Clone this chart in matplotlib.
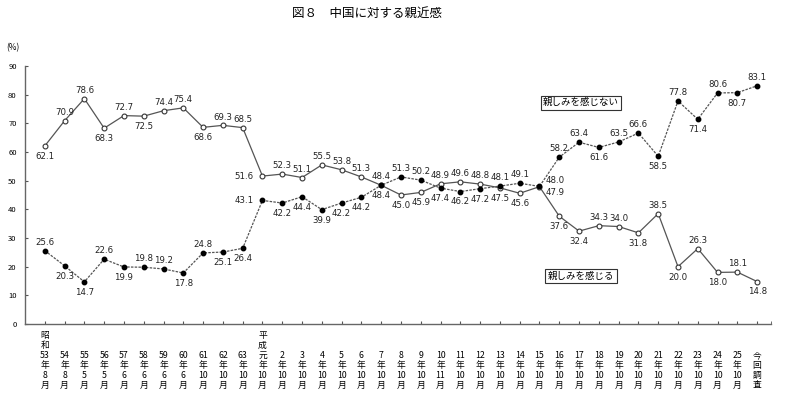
import numpy as np
import matplotlib
matplotlib.use("Agg")
import matplotlib.pyplot as plt

plt.rcParams['font.family'] = ['Noto Sans CJK JP', 'DejaVu Sans']

# 調査時期
years = ['昭\n和\n53', '54', '55', '56', '57', '58', '59', '60', '61', '62', '63',
         '平\n成\n元', '2', '3', '4', '5', '6', '7', '8', '9', '10', '11', '12', '13',
         '14', '15', '16', '17', '18', '19', '20', '21', '22', '23', '24', '25']
months = ['8', '8', '5', '5', '6', '6', '6', '6', '10', '10', '10',
          '10', '10', '10', '10', '10', '10', '10', '10', '10', '11', '10', '10', '10',
          '10', '10', '10', '10', '10', '10', '10', '10', '10', '10', '10', '10']

# 親しみを感じる (白丸・実線)
feel = [62.1, 70.9, 78.6, 68.3, 72.7, 72.5, 74.4, 75.4, 68.6, 69.3, 68.5,
        51.6, 52.3, 51.1, 55.5, 53.8, 51.3, 48.4, 45.0, 45.9, 48.9, 49.6, 48.8,
        47.5, 45.6, 47.9, 37.6, 32.4, 34.3, 34.0, 31.8, 38.5, 20.0, 26.3, 18.0,
        18.1, 14.8]
# 親しみを感じない (黒丸・点線)
notfeel = [25.6, 20.3, 14.7, 22.6, 19.9, 19.8, 19.2, 17.8, 24.8, 25.1, 26.4,
           43.1, 42.2, 44.4, 39.9, 42.2, 44.2, 48.4, 51.3, 50.2, 47.4, 46.2, 47.2,
           48.1, 49.1, 48.0, 58.2, 63.4, 61.6, 63.5, 66.6, 58.5, 77.8, 71.4, 80.6,
           80.7, 83.1]

# ラベル位置 a:上 b:下 l:左 ur:右上 lr:右下
feel_pos = ['b', 'a', 'a', 'b', 'a', 'b', 'a', 'a', 'b', 'a', 'a',
            'l', 'a', 'a', 'a', 'a', 'a', 'a', 'b', 'b', 'a', 'a', 'a',
            'b', 'b', 'lr', 'b', 'b', 'a', 'a', 'b', 'a', 'b', 'a', 'b', 'a', 'b']
notfeel_pos = ['a', 'b', 'b', 'a', 'b', 'a', 'a', 'b', 'a', 'b', 'b',
               'l', 'b', 'b', 'b', 'b', 'b', 'b', 'a', 'a', 'b', 'b', 'b',
               'a', 'a', 'ur', 'a', 'a', 'b', 'a', 'a', 'b', 'a', 'b', 'a', 'b', 'a']

labels = [y + '\n年\n' + m + '\n月' for y, m in zip(years, months)]
labels = [l if '\n' in l.split('\n年')[0] else '\n\n' + l for l in labels]
labels.append('\n\n今\n回\n調\n査')

offs = {'a': (0, 6), 'b': (0, -7.5), 'l': (-13, 0), 'ur': (11, 4), 'lr': (11, -4)}

x = np.arange(len(feel))
fig = plt.figure(figsize=(8, 4), dpi=100)
ax = fig.add_axes([25 / 800, 76 / 400, 746 / 800, 258 / 400])

lc = '#555555'
ax.plot(x, feel, '-', color=lc, lw=0.9, marker='o', ms=3.5, mfc='white', mec='#333333', mew=0.8)
ax.plot(x, notfeel, linestyle=(0, (2, 1)), color=lc, lw=0.9, marker='o', ms=3.2,
        mfc='black', mec='black')

for xs, vals, pos in [(x, feel, feel_pos), (x, notfeel, notfeel_pos)]:
    for xi, v, p in zip(xs, vals, pos):
        ax.annotate('%.1f' % v, (xi, v), xytext=offs[p], textcoords='offset points',
                    ha='center', va='center', fontsize=6.2, family='DejaVu Sans', color='#222222')

box = dict(boxstyle='square,pad=0.25', fc='white', ec='#333333', lw=0.8)
ax.text(27.1, 77.2, '親しみを感じない', fontsize=6.8, ha='center', va='center', bbox=box)
ax.text(27.1, 16.7, '親しみを感じる', fontsize=6.8, ha='center', va='center', bbox=box)

ax.set_xlim(-1, 36.7)
ax.set_ylim(0, 90)
ax.set_yticks(range(0, 91, 10))
ax.tick_params(axis='y', direction='in', length=2.5, labelsize=5.5, pad=6, color='#555555')
ax.set_xticks(x)
ax.set_xticklabels(labels, fontsize=6.3, linespacing=1.13)
ax.set_xticks([36.7], minor=True)
ax.tick_params(axis='x', which='both', direction='in', length=2.5, pad=5, color='#555555')
for s in ['top', 'right']:
    ax.spines[s].set_visible(False)
for s in ['left', 'bottom']:
    ax.spines[s].set_color('#666666')
    ax.spines[s].set_linewidth(1.0)

fig.text(13 / 800, 1 - 48 / 400, '(%)', fontsize=6, ha='center', va='center')
fig.text(367 / 800, 1 - 13 / 400, '図８　中国に対する親近感', fontsize=9, ha='center', va='center')

fig.savefig('out.png', dpi=100)
